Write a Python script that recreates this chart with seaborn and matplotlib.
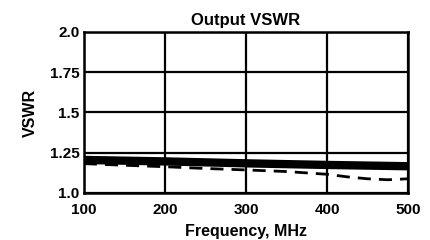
import matplotlib
matplotlib.use("Agg")
import matplotlib.pyplot as plt
import pandas as pd
import seaborn as sns

# data
freq_solid = [100, 200, 300, 400, 500]
vswr_solid = [1.205, 1.196, 1.184, 1.174, 1.166]

freq_dash = [100, 150, 200, 250, 300, 350, 400, 425, 450, 475, 500]
vswr_dash = [1.182, 1.172, 1.163, 1.152, 1.143, 1.133, 1.116, 1.100, 1.088, 1.082, 1.088]

x_ticks = [100, 200, 300, 400, 500]
y_ticks = [1.0, 1.25, 1.5, 1.75, 2.0]
y_labels = ["1.0", "1.25", "1.5", "1.75", "2.0"]

solid_df = pd.DataFrame({"freq": freq_solid, "vswr": vswr_solid})
dash_df = pd.DataFrame({"freq": freq_dash, "vswr": vswr_dash})

sns.set_style("white")
plt.rcParams["font.family"] = ["Liberation Sans", "DejaVu Sans"]
plt.rcParams["font.weight"] = "bold"
plt.rcParams["text.color"] = "black"
plt.rcParams["axes.labelcolor"] = "black"
plt.rcParams["xtick.color"] = "black"
plt.rcParams["ytick.color"] = "black"

fig, ax = plt.subplots(figsize=(4.3, 2.4), dpi=100)
fig.subplots_adjust(left=0.195, right=0.949, top=0.867, bottom=0.196)

sns.lineplot(data=solid_df, x="freq", y="vswr", ax=ax, color="black", linewidth=6)
sns.lineplot(data=dash_df, x="freq", y="vswr", ax=ax, color="black", linewidth=2)
ax.lines[-1].set_dashes([4.7, 2.9])

ax.set_xlim(100, 500)
ax.set_ylim(1.0, 2.0)
ax.set_xticks(x_ticks)
ax.set_yticks(y_ticks)
ax.set_yticklabels(y_labels)
ax.grid(True, color="black", linewidth=1.6)
ax.set_axisbelow(True)
for s in ax.spines.values():
    s.set_color("black")
    s.set_linewidth(1.8)
ax.tick_params(axis="y", length=0, pad=3, labelsize=11)
ax.tick_params(axis="x", length=0, pad=7, labelsize=11)
for lab in ax.get_xticklabels() + ax.get_yticklabels():
    lab.set_fontweight("bold")

ax.set_title("Output VSWR", fontsize=12, fontweight="bold", pad=5)
ax.set_xlabel("Frequency, MHz", fontsize=11.5, fontweight="bold", labelpad=5)
ax.set_ylabel("VSWR", fontsize=11.5, fontweight="bold", labelpad=9)

fig.savefig("out.png", dpi=100)
